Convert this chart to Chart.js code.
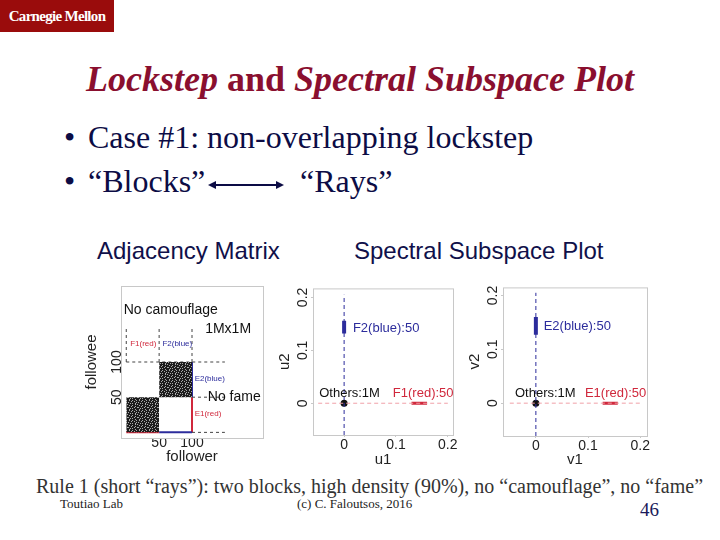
<!DOCTYPE html>
<html lang="en">
<head>
  <meta charset="UTF-8" />
  <title>Lockstep and Spectral Subspace Plot</title>
  <script src="https://cdn.jsdelivr.net/npm/chart.js"></script>
  <style>
    body { margin: 0; width: 720px; height: 540px; position: relative; overflow: hidden; background: #fff; font-family: 'Liberation Serif', serif; }
    .abs { position: absolute; white-space: nowrap; line-height: 1; }
    .logo { left: 0; top: 0; width: 114px; height: 32px; background: #9a0c0c; color: #fff; font: bold 15px 'Liberation Serif'; line-height: 32px; text-align: center; letter-spacing: -0.7px; }
    .title { left: 0; width: 720px; top: 58px; text-align: center; font: bold 36px 'Liberation Serif'; color: #8a0f2f; }
    .bullet { left: 64px; font-size: 32px; color: #0c0c45; }
    .bullet span { display: inline-block; width: 24px; }
    .sub { top: 237px; font: 24px 'Liberation Sans'; color: #10104a; }
    .rule { left: 36px; top: 476px; font-size: 20px; color: #333; }
    .foot { top: 497px; font-size: 13px; color: #222; }
    .page { left: 640px; top: 500px; font-size: 19px; color: #1a1a5a; }
    canvas { position: absolute; }
  </style>
</head>
<body>

<div class="abs logo">Carnegie Mellon</div>
<div class="abs title"><i>Lockstep</i> and <i>Spectral Subspace Plot</i></div>
<div class="abs bullet" style="top:121px"><span>•</span>Case #1: non-overlapping lockstep</div>
<div class="abs bullet" style="top:165px"><span>•</span>“Blocks”</div>
<svg style="position:absolute;left:208px;top:178px" width="76" height="14">
  <line x1="6" y1="7" x2="70" y2="7" stroke="#0c0c45" stroke-width="2"/>
  <polygon points="0,7 8,3 8,11" fill="#0c0c45"/>
  <polygon points="76,7 68,3 68,11" fill="#0c0c45"/>
</svg>
<div class="abs bullet" style="top:165px;left:300px">“Rays”</div>
<div class="abs sub" style="left:97px">Adjacency Matrix</div>
<div class="abs sub" style="left:354px">Spectral Subspace Plot</div>

<canvas id="adj" width="192" height="186" style="left:78px;top:280px"></canvas>
<canvas id="specU" width="182" height="187" style="left:276px;top:282px"></canvas>
<canvas id="specV" width="186" height="188" style="left:466px;top:281px"></canvas>

<div class="abs rule">Rule 1 (short “rays”): two blocks, high density (90%), no “camouflage”, no “fame”</div>
<div class="abs foot" style="left:60px">Toutiao Lab</div>
<div class="abs foot" style="left:297px">(c) C. Faloutsos, 2016</div>
<div class="abs page">46</div>

<script>
// adjacency matrix: two lockstep blocks (follower range x followee range)
const blockFollowers = [[0, 50], [50, 100]];
const blockFollowees = [[0, 50], [50, 100]];
const adjTicks = [50, 100];
const adjRange = [-8, 208];

// spectral subspace: the 50 followers / followees sit on short rays
const othersPoint = [0, 0];
const u2Ray = [0.132, 0.156];   // F2(blue) along u2
const u1Ray = [0.13, 0.16];     // F1(red) along u1
const v2Ray = [0.127, 0.16];    // E2(blue) along v2
const v1Ray = [0.128, 0.157];   // E1(red) along v1
const specTicks = [0, 0.1, 0.2];

const RED = '#d0283c', BLUE = '#2c2c9c', AXIS = '#c8c8c8';
const FONT = 'Liberation Sans';

// speckled texture for the dense blocks
const tileRows = [
  '.#..#...#.',
  '...#..#...',
  '#.......#.',
  '..#.#..#..',
  '.......#.#',
  '.#..#.....',
  '...#...#..',
  '#.....#..#',
  '..#.#.....',
  '.#.....#..'
];
const tile = document.createElement('canvas');
tile.width = tile.height = 10;
const tctx = tile.getContext('2d');
tctx.fillStyle = '#1c1c1c';
tctx.fillRect(0, 0, 10, 10);
tctx.fillStyle = '#a8a8a8';
tileRows.forEach((row, j) => [...row].forEach((ch, i) => { if (ch === '#') tctx.fillRect(i, j, 1, 1); }));
const speckle = tctx.createPattern(tile, 'repeat');

const boxPlugin = {
  id: 'box',
  afterDraw(chart) {
    const a = chart.chartArea, c = chart.ctx;
    c.save();
    c.strokeStyle = AXIS;
    c.lineWidth = 1;
    c.strokeRect(a.left + 0.5, a.top + 0.5, a.right - a.left, a.bottom - a.top);
    c.restore();
  }
};

const notesPlugin = {
  id: 'notes',
  afterDatasetsDraw(chart, args, opts) {
    const c = chart.ctx, xs = chart.scales.x, ys = chart.scales.y;
    c.save();
    c.textBaseline = 'middle';
    c.textAlign = 'left';
    (opts.items || []).forEach(n => {
      c.font = n.size + 'px ' + FONT;
      c.fillStyle = n.color;
      c.fillText(n.text, xs.getPixelForValue(n.x), ys.getPixelForValue(n.y));
    });
    c.restore();
  }
};

function seg(x0, y0, x1, y1, color, width, dash) {
  return {
    data: [{ x: x0, y: y0 }, { x: x1, y: y1 }],
    borderColor: color, borderWidth: width, borderDash: dash || [],
    pointRadius: 0, fill: false
  };
}

function axes(xr, yr, ticks, xTitle, yTitle, yWidth, xHeight, xPad, yPad, tickLen, yTitlePad) {
  const common = (title, pad) => ({
    type: 'linear',
    grid: { display: true, drawOnChartArea: false, color: AXIS, tickLength: tickLen },
    border: { display: false },
    afterBuildTicks: s => { s.ticks = ticks.map(v => ({ value: v })); },
    title: { display: true, text: title, color: '#222', font: { family: FONT, size: 15 }, padding: pad }
  });
  const x = Object.assign(common(xTitle, 0), {
    min: xr[0], max: xr[1],
    ticks: { color: '#222', font: { family: FONT, size: 14 }, padding: xPad, maxRotation: 0 },
    afterFit: s => { s.height = xHeight; }
  });
  const y = Object.assign(common(yTitle, yTitlePad), {
    min: yr[0], max: yr[1],
    ticks: { color: '#222', font: { family: FONT, size: 14 }, padding: yPad, minRotation: 90, maxRotation: 90, crossAlign: 'center' },
    afterFit: s => { s.width = yWidth; }
  });
  return { x, y };
}

function baseOptions(scales, items) {
  return {
    responsive: false, animation: false, events: [],
    layout: { padding: { top: 6, right: 5, left: 0, bottom: 0 } },
    plugins: { legend: { display: false }, tooltip: { enabled: false }, notes: { items } },
    scales
  };
}

// ---- adjacency matrix ----
const adjData = [];
blockFollowers.forEach((fx, i) => {
  const fy = blockFollowees[i];
  adjData.push({
    data: [{ x: fx[0], y: fy[1] }, { x: fx[1], y: fy[1] }],
    borderWidth: 0, pointRadius: 0, backgroundColor: speckle, fill: { value: fy[0] }
  });
});
// dashed guides
[0, 50, 100].forEach(v => adjData.push(seg(v, 100, v, 148, '#444', 1, [3, 3])));
adjData.push(seg(0, 100, 150, 100, '#444', 1, [3, 3]));
adjData.push(seg(100, 50, 150, 50, '#444', 1, [3, 3]));
adjData.push(seg(100, 0, 150, 0, '#444', 1, [3, 3]));
// coloured block edges
adjData.push(seg(0, 0, 50, 0, RED, 2));
adjData.push(seg(50, 0, 100, 0, BLUE, 2));
adjData.push(seg(100, 0, 100, 50, RED, 2));
adjData.push(seg(100, 50, 100, 100, BLUE, 2));

const adjScales = axes(adjRange, adjRange, adjTicks, 'follower', 'followee', 43, 28, -3, -8, 0, 5);
const adjOpts = baseOptions(adjScales, [
  { text: 'No camouflage', x: -4, y: 173, size: 14, color: '#111' },
  { text: '1Mx1M', x: 120, y: 146, size: 14, color: '#111' },
  { text: 'F1(red)', x: 6, y: 126, size: 8, color: RED },
  { text: 'F2(blue)', x: 55, y: 126, size: 8, color: BLUE },
  { text: 'E2(blue)', x: 104, y: 76, size: 8, color: BLUE },
  { text: 'No fame', x: 124, y: 50, size: 14, color: '#111' },
  { text: 'E1(red)', x: 104, y: 26, size: 8, color: RED }
]);
adjOpts.layout.padding.right = 7;
new Chart(document.getElementById('adj'), {
  type: 'line', data: { datasets: adjData }, options: adjOpts, plugins: [boxPlugin, notesPlugin]
});

// ---- spectral subspace plots ----
function spectral(id, xr, yr, xTitle, yTitle, yRay, xRay, labels, xHeight) {
  const ds = [
    seg(-0.05, 0, 0.2, 0, '#f0a0a8', 1, [4, 3]),
    seg(0, yr[0], 0, 0.205, BLUE, 1, [4, 3]),
    seg(0, yRay[0], 0, yRay[1], BLUE, 4),
    seg(xRay[0], 0, xRay[1], 0, RED, 3),
    { data: [{ x: othersPoint[0], y: othersPoint[1] }], pointRadius: 3.5, pointBackgroundColor: '#111', pointBorderWidth: 0, showLine: false }
  ];
  const opts = baseOptions(axes(xr, yr, specTicks, xTitle, yTitle, 37, xHeight, 0, -2, 2, 0), [
    { text: labels.blue, x: labels.blueX, y: 0.142, size: 13, color: BLUE },
    { text: 'Others:1M', x: labels.othersX, y: 0.019, size: 13, color: '#111' },
    { text: labels.red, x: 0.094, y: 0.019, size: 13, color: RED }
  ]);
  new Chart(document.getElementById(id), {
    type: 'line', data: { datasets: ds }, options: opts, plugins: [boxPlugin, notesPlugin]
  });
}

spectral('specU', [-0.06, 0.21], [-0.06, 0.217], 'u1', 'u2', u2Ray, u1Ray,
  { blue: 'F2(blue):50', red: 'F1(red):50', blueX: 0.017, othersX: -0.048 }, 34);
spectral('specV', [-0.063, 0.213], [-0.061, 0.215], 'v1', 'v2', v2Ray, v1Ray,
  { blue: 'E2(blue):50', red: 'E1(red):50', blueX: 0.015, othersX: -0.04 }, 33);
</script>

</body>
</html>
